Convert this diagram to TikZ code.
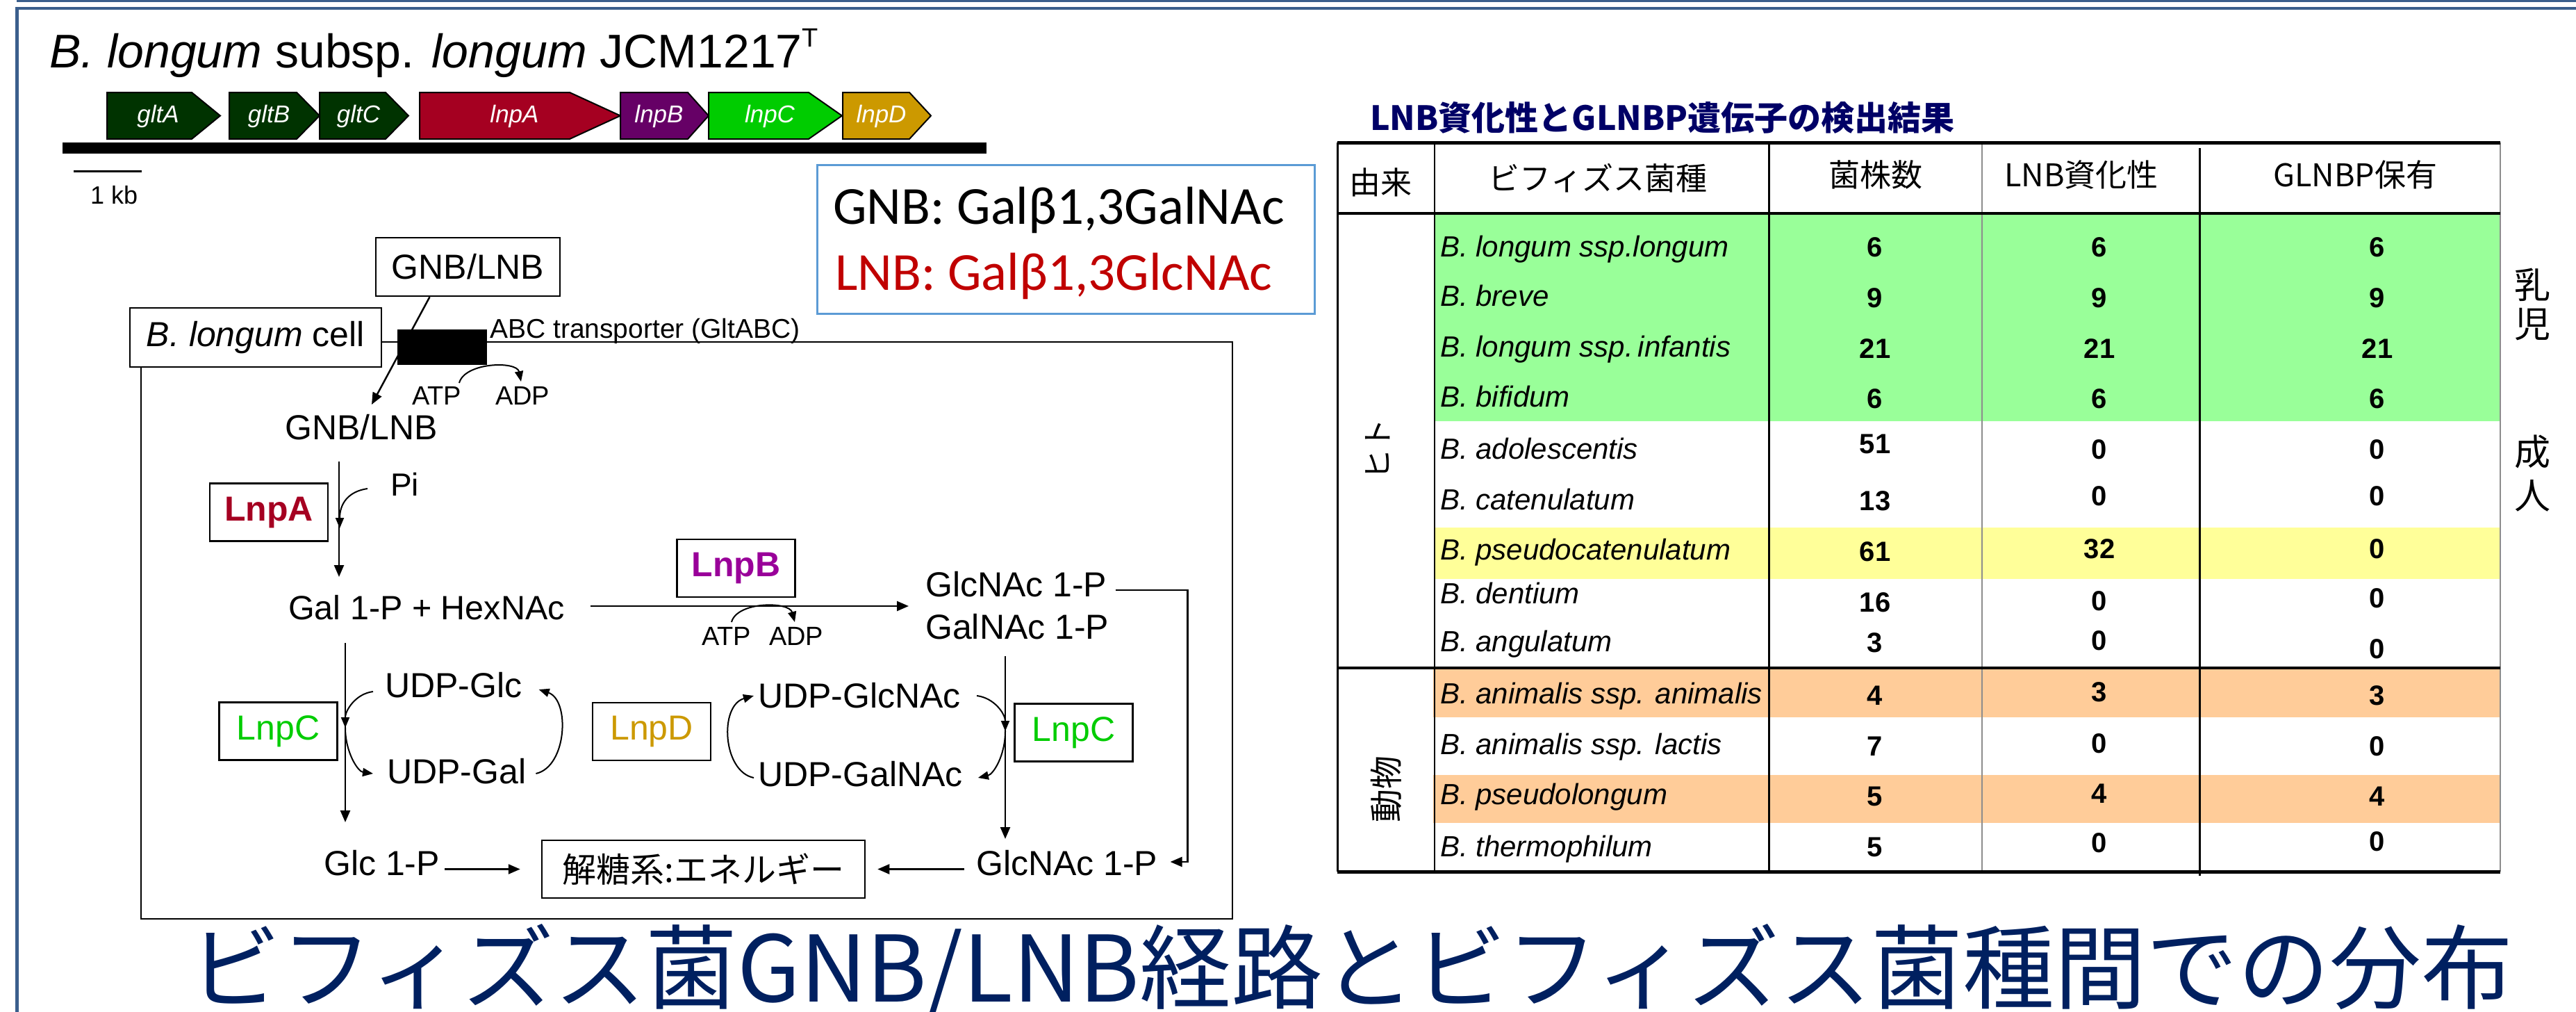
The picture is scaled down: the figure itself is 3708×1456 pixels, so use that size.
\documentclass[tikz,border=0pt]{standalone}
\usepackage{fontspec}
\setmainfont{Liberation Sans}
\newfontfamily\cjk{Noto Sans CJK JP}
\newfontfamily\calib{Carlito}
\usetikzlibrary{arrows.meta,calc}
\definecolor{frameblue}{RGB}{58,94,140}
\definecolor{gdark}{RGB}{0,51,0}
\definecolor{cA}{RGB}{165,0,33}
\definecolor{cB}{RGB}{102,0,102}
\definecolor{cBt}{RGB}{153,0,153}
\definecolor{cC}{RGB}{0,204,0}
\definecolor{cD}{RGB}{204,153,0}
\definecolor{legblue}{RGB}{91,155,213}
\definecolor{legred}{RGB}{192,0,0}
\definecolor{titlenavy}{RGB}{0,32,96}
\definecolor{tnavy}{RGB}{0,0,102}
\definecolor{rowgreen}{RGB}{153,255,153}
\definecolor{rowyellow}{RGB}{255,255,153}
\definecolor{roworange}{RGB}{255,204,153}
\newcommand\myfs[1]{\fontsize{#1}{#1}\selectfont}
\begin{document}
\begin{tikzpicture}[x=1pt,y=-1pt,
  lbl/.style={inner sep=0pt, anchor=base west},
  met/.style={lbl, font=\myfs{50}},
  small/.style={lbl, font=\myfs{38}},
  enz/.style={draw, line width=2.5pt, minimum width=170pt, minimum height=83pt, inner sep=0pt},
  arr/.style={line width=2.5pt, -{Triangle[length=17pt,width=14pt]}},
  arc/.style={line width=2pt, -{Triangle[length=15pt,width=12pt]}},
  gene/.style={draw=black, line width=2pt},
  genelbl/.style={text=white, font=\myfs{35}\itshape, inner sep=0pt},
  sp/.style={lbl, font=\myfs{42}\itshape},
  num/.style={inner sep=0pt, anchor=base, font=\myfs{40}\bfseries},
  hdr/.style={inner sep=0pt, font=\cjk\myfs{45}},
  side/.style={inner sep=0pt, font=\cjk\myfs{52}},
]
\useasboundingbox (0,0) rectangle (3708,1456);
% frame
\fill[frameblue] (24,0) rectangle (3708,2.5);
\fill[frameblue] (24,10) rectangle (3708,14);
\fill[frameblue] (22,10) rectangle (27,1456);

% ---- gene map
\node[lbl, font=\myfs{68}] (title) at (71,97) {\textit{B. longum} subsp. \textit{longum} JCM1217\raisebox{30pt}{\myfs{38}T}};
\foreach \a/\b/\c/\col/\lab/\n in {154/276/317/gdark/gltA/gA, 330/427/460/gdark/gltB/gB, 460/555/588/gdark/gltC/gC,
  604/820/893/cA/lnpA/lA, 893/990/1020/cB/lnpB/lB, 1020/1164/1212/cC/lnpC/lC, 1213/1309/1340/cD/lnpD/lD} {
  \draw[gene, fill=\col] (\a,133) -- (\b,133) -- (\c,166.5) -- (\b,200) -- (\a,200) -- cycle;
  \node[genelbl] (\n) at ({(\a+\c)/2-8},167) {\lab};
}
\fill (90,205) rectangle (1420,221);
\draw[line width=3pt] (106,246) -- (204,246);
\node[lbl, font=\myfs{36}] (kb) at (130,293) {1 kb};

% ---- legend
\node[draw=legblue, line width=3pt, minimum width=716pt, minimum height=214pt, inner sep=0pt] (legend) at (1534,344) {};
\node[lbl, font=\calib\myfs{77}] (gnbdef) at (1199,322) {GNB: Galβ1,3GalNAc};
\node[lbl, font=\calib\myfs{77}, text=legred] (lnbdef) at (1202,417) {LNB: Galβ1,3GlcNAc};

% ---- cell
\draw[line width=2.5pt] (203,492) rectangle (1774,1322);
\node[draw, fill=white, line width=2.5pt, minimum width=362pt, minimum height=85pt, inner sep=0pt, font=\myfs{50}] (celllbl) at (368,485.5) {\textit{B. longum} cell};
\node[fill=black, minimum width=129pt, minimum height=51pt, inner sep=0pt] (abc) at (636.5,499.5) {};
\node[lbl, font=\myfs{39}] (abctxt) at (705,486) {ABC transporter (GltABC)};

\node[draw, line width=2.5pt, minimum width=265pt, minimum height=84pt, inner sep=0pt, font=\myfs{50}] (gnbout) at (673.5,384) {GNB/LNB};
\node[met] (gnbin) at (410,632) {GNB/LNB};
\node[small] (atp1) at (593,582) {ATP};
\node[small] (adp1) at (713,582) {ADP};
\node[lbl, font=\myfs{46}] (pi) at (562,713) {Pi};
\node[enz, text=cA, font=\myfs{50}\bfseries] (lnpa) at (387,737) {LnpA};
\node[lbl, font=\myfs{48.5}] (gal1p) at (415,891) {Gal 1-P + HexNAc};
\node[enz, text=cBt, font=\myfs{50}\bfseries] (lnpb) at (1059.5,817.5) {LnpB};
\node[small] (atp2) at (1010,928) {ATP};
\node[small] (adp2) at (1107,928) {ADP};
\node[met] (glcnac1) at (1332,858) {GlcNAc 1-P};
\node[met] (galnac1) at (1332,919) {GalNAc 1-P};
\node[met] (udpglc) at (554,1003) {UDP-Glc};
\node[met] (udpgal) at (557,1127) {UDP-Gal};
\node[enz, text=cC, font=\myfs{50}] (lnpc1) at (400.5,1052) {LnpC};
\node[enz, text=cD, font=\myfs{50}] (lnpd) at (938,1052.5) {LnpD};
\node[met] (udpglcnac) at (1091,1018) {UDP-GlcNAc};
\node[met] (udpgalnac) at (1091,1131) {UDP-GalNAc};
\node[enz, text=cC, font=\myfs{50}] (lnpc2) at (1545.5,1054) {LnpC};
\node[met] (glc1p) at (466,1259) {Glc 1-P};
\node[met] (glcnac2) at (1405,1259) {GlcNAc 1-P};
\node[draw, line width=2.5pt, minimum width=465pt, minimum height=83pt, inner sep=0pt, font=\cjk\myfs{49}] (energy) at (1012.5,1250.5) {解糖系:エネルギー};

% connectors
\draw[arr] ($(gnbout.south)+(-55,0)$) -- ($(gnbin.base west)+(125,-50)$);
\draw[arc] ($(atp1.base west)+(68,-31)$) .. controls +(8,-30) and +(-6,-30) .. ($(adp1.base west)+(37,-33)$);
\draw[arr] ($(gnbin.base west)+(78,32)$) -- ($(gal1p.base west)+(73,-61)$);
\draw[arc] ($(pi.base west)+(-33,-10)$) .. controls +(-28,4) and +(0,-35) .. ($(gnbin.base west)+(79,128)$);
\draw[arr] ($(gal1p.base east)+(37,-19)$) -- ($(glcnac1.base west)+(-24,14)$);
\draw[arc] ($(atp2.base west)+(43,-33)$) .. controls +(8,-30) and +(-8,-30) .. ($(adp2.base west)+(37,-33)$);
\draw[arr] ($(glcnac1.base east)+(12,-9)$) -- ($(glcnac1.base east)+(116,-9)$) |- ($(glcnac2.base east)+(18,-19)$);
\draw[arr] ($(galnac1.base west)+(115,25)$) -- ($(glcnac2.base west)+(42,-52)$);
\draw[arc] ($(udpgalnac.base west)+(-6,-12)$) .. controls +(-45,-9) and +(-50,14) .. ($(udpglcnac.base west)+(-6,-17)$);
\draw[arc] ($(udpglcnac.base east)+(23,-17)$) .. controls +(25,3) and +(0,-25) .. ($(galnac1.base west)+(115,133)$);
\draw[arc] ($(galnac1.base west)+(115,133)$) .. controls +(0,35) and +(22,-5) .. ($(udpgalnac.base east)+(22,-12)$);
\draw[arr] ($(gal1p.base west)+(82,34)$) -- ($(glc1p.base west)+(31,-76)$);
\draw[arc] ($(udpglc.base west)+(-17,-8)$) .. controls +(-25,3) and +(0,-25) .. ($(gal1p.base west)+(82,156)$);
\draw[arc] ($(gal1p.base west)+(82,156)$) .. controls +(0,35) and +(-22,-3) .. ($(udpgal.base west)+(-20,-14)$);
\draw[arc] ($(udpgal.base east)+(14,-14)$) .. controls +(45,-10) and +(45,15) .. ($(udpglc.base east)+(24,-11)$);
\draw[arr] ($(glc1p.base east |- energy.west)+(7,0)$) -- ($(energy.west)+(-30,0)$);
\draw[arr] ($(glcnac2.base west |- energy.east)+(-17,0)$) -- ($(energy.east)+(17,0)$);

% ---- table
\node[lbl, font=\cjk\myfs{48}\bfseries, text=tnavy] (ttitle) at (1972,187) {LNB資化性とGLNBP遺伝子の検出結果};
\fill[rowgreen] (2065,307) rectangle (3599,606);
\fill[rowyellow] (2065,759) rectangle (3599,833);
\fill[roworange] (2063,963) rectangle (3599,1032);
\fill[roworange] (2063,1115) rectangle (3599,1184);
\draw[line width=3pt] (1925,205) -- (1925,1254);
\draw[line width=2pt] (2065,205) -- (2065,1254);
\draw[line width=3pt] (2546,205) -- (2546,1254);
\draw[line width=1.5pt, black!45] (2853,205) -- (2853,1254);
\draw[line width=3pt] (3166,213) -- (3166,1260);
\draw[line width=1.5pt, black!45] (3599,205) -- (3599,1254);
\draw[line width=5pt] (1925,205) -- (3599,205);
\draw[line width=4pt] (1925,307) -- (3599,307);
\draw[line width=4pt] (1925,961) -- (3599,961);
\draw[line width=5pt] (1925,1254) -- (3599,1254);

\node[hdr] (h1) at (1987,262) {由来};
\node[hdr] (h2) at (2300,256) {ビフィズス菌種};
\node[hdr] (h3) at (2700,251) {菌株数};
\node[hdr] (h4) at (2996,251) {LNB資化性};
\node[hdr] (h5) at (3390,251) {GLNBP保有};

\foreach \y/\s [count=\i] in {369/{B. longum ssp.longum}, 440/{B. breve}, 513/{B. longum  ssp.\,infantis}, 585/{B. bifidum},
  660/{B. adolescentis}, 733/{B. catenulatum}, 805/{B. pseudocatenulatum}, 868/{B. dentium}, 937/{B. angulatum},
  1012/{B. animalis ssp. animalis}, 1085/{B. animalis ssp. lactis}, 1157/{B. pseudolongum}, 1232/{B. thermophilum}}
  \node[sp] (sp\i) at (2073,\y) {\s};

\foreach \ya/\a/\yb/\b/\yc/\c [count=\i] in {369/6/369/6/369/6, 442/9/442/9/442/9, 515/21/515/21/515/21, 587/6/587/6/587/6,
  652/51/660/0/660/0, 734/13/727/0/727/0, 807/61/803/32/803/0, 880/16/878/0/874/0, 938/3/935/0/947/0,
  1014/4/1009/3/1014/3, 1087/7/1083/0/1087/0, 1159/5/1155/4/1159/4, 1232/5/1226/0/1224/0} {
  \node[num] (na\i) at (2699,\ya) {\a};
  \node[num] (nb\i) at (3022,\yb) {\b};
  \node[num] (nc\i) at (3422,\yc) {\c};
}

\node[inner sep=0pt, font=\cjk\myfs{44}, rotate=90] (hito) at (1983,646) {ヒト};
\node[inner sep=0pt, font=\cjk\myfs{48}, rotate=90] (doubutsu) at (1995,1135) {動物};
\node[side] (nyu) at (3645,410) {乳};
\node[side] (ji) at (3645,467) {児};
\node[side] (sei) at (3645,650) {成};
\node[side] (jin) at (3645,713) {人};

% ---- main title
\node[lbl, font=\cjk\myfs{132}, text=titlenavy] (maintitle) at (272,1441) {ビフィズス菌GNB/LNB経路とビフィズス菌種間での分布};
\end{tikzpicture}
\end{document}
